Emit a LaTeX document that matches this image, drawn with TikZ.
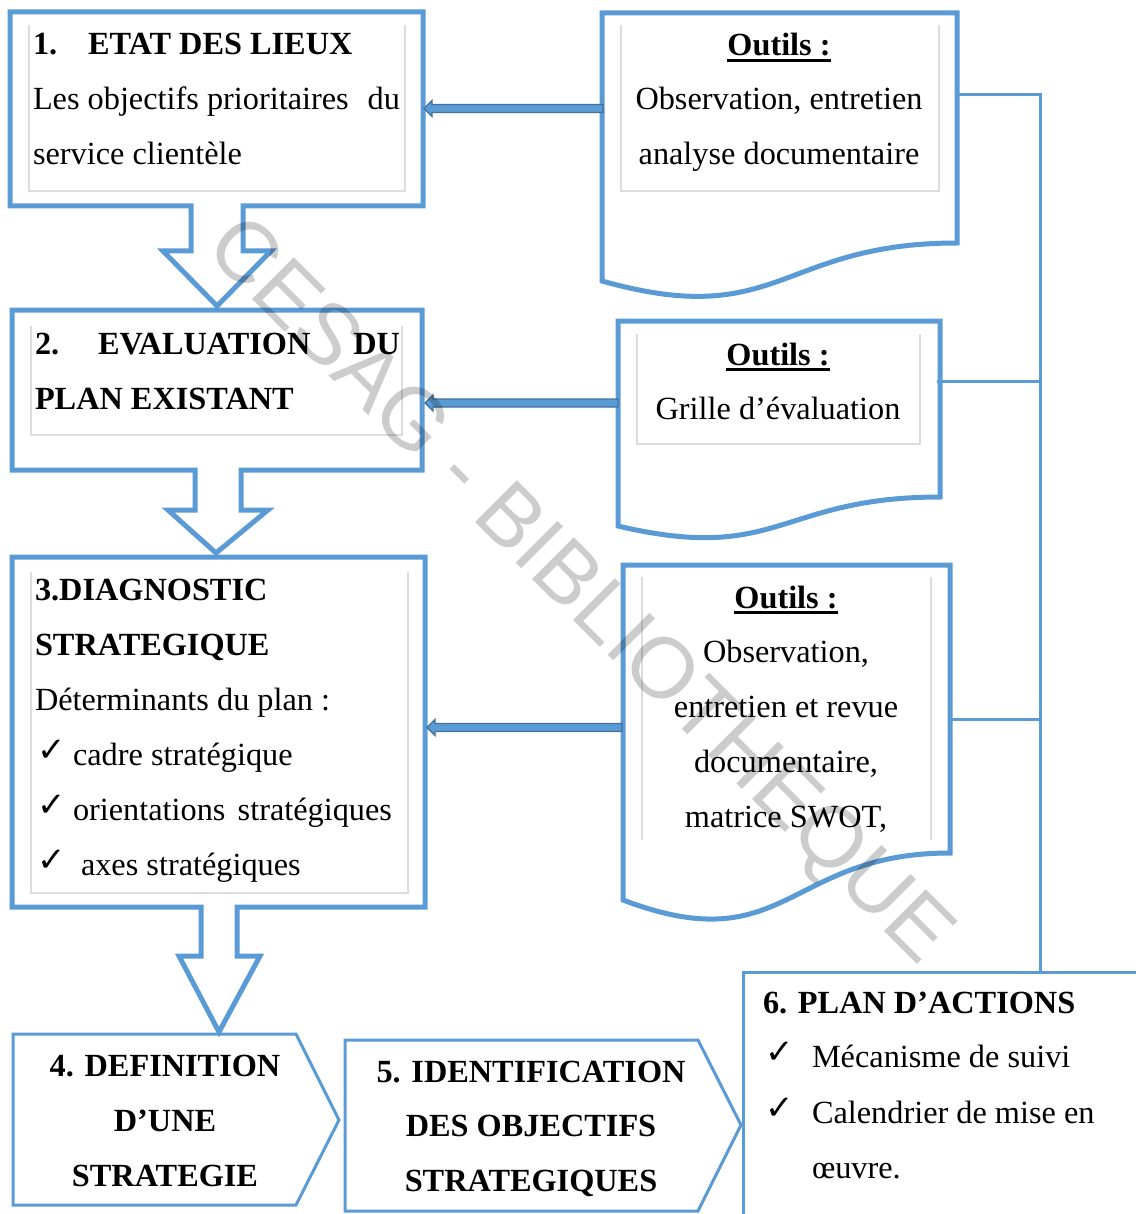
\documentclass[tikz,border=0pt]{standalone}
\usepackage{fontspec}
\setmainfont{Liberation Serif}
\newfontfamily\symfont{DejaVu Sans}
\newfontfamily\wmfont{Liberation Sans}
\definecolor{bl}{HTML}{5B9BD5}
\definecolor{bld}{HTML}{41719C}
\definecolor{innerg}{HTML}{DCDCDC}
\begin{document}
\begin{tikzpicture}[x=1pt,y=-1pt,
  bigbox/.style={draw=bl, line width=5, line join=miter},
  smallbox/.style={draw=bl, line width=3, line join=miter},
  innerline/.style={draw=innerg, line width=1.5},
  link/.style={draw=bl, line width=3},
  blockarrow/.style={fill=bl, draw=bld, line width=1.3, line join=miter},
  txt/.style={inner sep=0, outer sep=0, font=\fontsize{32.3}{38}\selectfont, anchor=base west},
  txtc/.style={txt, anchor=base},
  bftxt/.style={txt, font=\fontsize{32.3}{38}\selectfont\bfseries},
  bftxtc/.style={txtc, font=\fontsize{32.3}{38}\selectfont\bfseries},
  chk/.style={inner sep=0, outer sep=0, anchor=base west, font=\symfont\bfseries\fontsize{34}{38}\selectfont},
]
\useasboundingbox (0,0) rectangle (1135,1214);
\fill[white] (0,0) rectangle (1135,1214);

% ---------- box 1 ----------
\draw[bigbox] (10,12) -- (423,12) -- (423,206) -- (243,206) -- (243,251) -- (271,251)
  -- (217,306) -- (163,251) -- (191,251) -- (191,206) -- (10,206) -- cycle;
\draw[innerline] (29,25) -- (29,191) -- (405,191) -- (405,25);
\node[bftxt] (b1a) at (33,55) {1.};
\node[bftxt] (b1b) at (88,55) {ETAT DES LIEUX};
\node[txt] (b1c) at (33,110) {Les objectifs prioritaires};
\node[txt, anchor=base east] (b1d) at (400,110) {du};
\node[txt] (b1e) at (33,165) {service clientèle};

% ---------- box 2 ----------
\draw[bigbox] (12,310) -- (422,310) -- (422,470) -- (241,470) -- (241,510) -- (268,510)
  -- (216,553) -- (168,510) -- (195,510) -- (195,470) -- (12,470) -- cycle;
\draw[innerline] (31,326) -- (31,435) -- (402,435) -- (402,326);
\node[bftxt] (b2a) at (35,354) {2.};
\node[bftxt] (b2b) at (98,354) {EVALUATION};
\node[bftxt, anchor=base east] (b2c) at (400,354) {DU};
\node[bftxt] (b2d) at (35,409) {PLAN EXISTANT};

% ---------- box 3 ----------
\draw[bigbox] (12,557) -- (425,557) -- (425,907) -- (237,907) -- (237,956) -- (260,956)
  -- (219,1032) -- (179,956) -- (201,956) -- (201,907) -- (12,907) -- cycle;
\draw[innerline] (31,572) -- (31,893) -- (408,893) -- (408,572);
\node[bftxt] (b3a) at (35,600) {3.DIAGNOSTIC};
\node[bftxt] (b3b) at (35,655) {STRATEGIQUE};
\node[txt] (b3c) at (35,710) {Déterminants du plan :};
\node[chk] (k1) at (37,761) {✓};
\node[txt] (b3d) at (73,765) {cadre stratégique};
\node[chk] (k2) at (37,816) {✓};
\node[txt] (b3e) at (73,820) {orientations};
\node[txt, anchor=base east] (b3f) at (392,820) {stratégiques};
\node[chk] (k3) at (37,871) {✓};
\node[txt] (b3g) at (81,875) {axes stratégiques};

% ---------- box 4 ----------
\draw[smallbox] (13,1034) -- (296,1034) -- (339,1120) -- (296,1205) -- (13,1205) -- cycle;
\node[bftxtc] (b4a) at (165,1076) {4. DEFINITION};
\node[bftxtc] (b4b) at (165,1131) {D’UNE};
\node[bftxtc] (b4c) at (165,1186) {STRATEGIE};

% ---------- box 5 ----------
\draw[smallbox] (345,1040) -- (698,1040) -- (741,1125) -- (698,1211) -- (345,1211) -- cycle;
\node[bftxtc] (b5a) at (531,1082) {5. IDENTIFICATION};
\node[bftxtc] (b5b) at (531,1136) {DES OBJECTIFS};
\node[bftxtc] (b5c) at (531,1191) {STRATEGIQUES};

% ---------- box 6 ----------
\draw[smallbox] (1140,972) -- (743,972) -- (743,1220);
\coordinate (b6top) at (1040,972);
\node[bftxt] (b6a) at (763,1013) {6. PLAN D’ACTIONS};
\node[chk] (k4) at (765,1063) {✓};
\node[txt] (b6b) at (812,1067) {Mécanisme de suivi};
\node[chk] (k5) at (765,1119) {✓};
\node[txt] (b6c) at (812,1123) {Calendrier de mise en};
\node[txt] (b6d) at (812,1178) {œuvre.};

% ---------- tool 1 ----------
\draw[bigbox] (602,13) -- (957,13) -- (957,243) .. controls (779.5,243) and (779.5,331) .. (602,281) -- cycle;
\draw[innerline] (621,25) -- (621,191) -- (939,191) -- (939,25);
\node[bftxtc] (t1a) at (779,56) {Outils :};
\draw[line width=2.3] ([yshift=-4.5pt]t1a.base west) -- ([yshift=-4.5pt]t1a.base east);
\node[txtc] (t1b) at (779,110) {Observation, entretien};
\node[txtc] (t1c) at (779,165) {analyse documentaire};

% ---------- tool 2 ----------
\draw[bigbox] (618,321) -- (940,321) -- (940,497) .. controls (779,497) and (779,564) .. (618,526) -- cycle;
\draw[innerline] (637,334) -- (637,444) -- (920,444) -- (920,334);
\node[bftxtc] (t2a) at (778,365) {Outils :};
\draw[line width=2.3] ([yshift=-4.5pt]t2a.base west) -- ([yshift=-4.5pt]t2a.base east);
\node[txtc] (t2b) at (778,419) {Grille d’évaluation};

% ---------- tool 3 ----------
\draw[bigbox] (623,565) -- (950,565) -- (950,853) .. controls (786.5,853) and (786.5,962) .. (623,900) -- cycle;
\draw[innerline] (642,577) -- (642,840);
\draw[innerline] (931,577) -- (931,840);
\node[bftxtc] (t3a) at (786,608) {Outils :};
\draw[line width=2.3] ([yshift=-4.5pt]t3a.base west) -- ([yshift=-4.5pt]t3a.base east);
\node[txtc] (t3b) at (786,662) {Observation,};
\node[txtc] (t3c) at (786,717) {entretien et revue};
\node[txtc] (t3d) at (786,772) {documentaire,};
\node[txtc] (t3e) at (786,827) {matrice SWOT,};

% ---------- block arrows tools -> boxes ----------
\draw[blockarrow] (603,104.5) -- (432,104.5) -- (432,100.5) -- (424,108.5) -- (432,116.5) -- (432,112.5) -- (603,112.5) -- cycle;
\draw[blockarrow] (618,399) -- (433,399) -- (433,395) -- (425,403) -- (433,411) -- (433,407) -- (618,407) -- cycle;
\draw[blockarrow] (622,723.5) -- (435,723.5) -- (435,719.5) -- (427,727.5) -- (435,735.5) -- (435,731.5) -- (622,731.5) -- cycle;

% ---------- right-hand links ----------
\coordinate (t1r) at (958,95);
\coordinate (t2r) at (937,381);
\coordinate (t3r) at (951,719);
\coordinate (bus1) at (1040,95);
\coordinate (bus2) at (1040,381);
\coordinate (bus3) at (1040,719);
\draw[link] (t1r) -- (bus1) -- (b6top);
\draw[link] (t2r) -- (bus2);
\draw[link] (t3r) -- (bus3);

% ---------- watermark ----------
\node[rotate=-45, inner sep=0, text=black, text opacity=0.2, font=\wmfont\fontsize{86}{94}\selectfont] (wm) at (577,593) {CESAG - BIBLIOTHEQUE};
\end{tikzpicture}
\end{document}
